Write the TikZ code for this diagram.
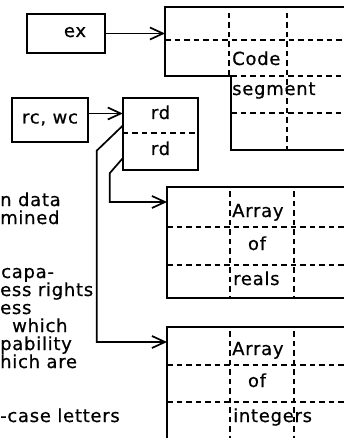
\documentclass[tikz,border=0pt]{standalone}
\usepackage{fontspec}
\setmainfont{DejaVu Sans}[LetterSpace=4, FakeBold=0.6]
\usetikzlibrary{arrows.meta,positioning}

\begin{document}
\begin{tikzpicture}[x=1pt, y=-1pt, font=\fontsize{18}{18}\selectfont,
  box/.style={draw, line width=1.9pt, inner sep=0pt, text height=10pt, text depth=3pt},
  half/.style={inner sep=0pt, minimum width=75pt, text height=10pt, text depth=3pt},
  seg/.style={line width=1.9pt},
  cell/.style={dash pattern=on 5.5pt off 4pt, line width=1.6pt},
  txt/.style={inner sep=0pt, anchor=base west},
  flow/.style={-{Straight Barb[length=13pt, width=12pt]}, line width=1.7pt}]
\clip (0,0) rectangle (344,438);
% capabilities
\node[box, minimum width=78pt, minimum height=39pt] (ex) at (66,33.5) {\hspace*{18pt}ex};
\node[box, minimum width=76pt, minimum height=44pt] (rcwc) at (50,120) {rc, wc};
\node[half, minimum height=35pt] (rdtop) at (160.5,115.5) {rd};
\node[half, minimum height=37pt] (rdbot) at (160.5,151.5) {rd};
\draw[seg] (rdtop.north west) rectangle (rdbot.south east);
\draw[cell] (rdtop.south west) -- (rdtop.south east);
% code segment
\draw[seg] (350,7) -- (165,7) -- (165,76) -- (231,76) -- (231,150) -- (350,150);
\draw[cell] (165,40) -- (350,40);
\draw[cell] (231,76) -- (350,76);
\draw[cell] (231,113) -- (350,113);
\draw[cell] (229,13) -- (229,76);
\draw[cell] (287,13) -- (287,150);
\node[txt] (code) at (232,65) {Code};
\node[txt] (segm) at (232,95) {segment};
\coordinate (codein) at (165,33.5);
% array of reals
\draw[seg] (350,187) -- (167,187) -- (167,298) -- (350,298);
\draw[cell] (167,227) -- (350,227);
\draw[cell] (167,265) -- (350,265);
\draw[cell] (230,191) -- (230,298);
\draw[cell] (294,191) -- (294,298);
\node[txt] (arr1) at (232,217) {Array};
\node[txt, anchor=base] (of1) at (257,250) {of};
\node[txt] (reals) at (233,285) {reals};
\coordinate (realsin) at (167,202);
% array of integers
\draw[seg] (350,327) -- (167,327) -- (167,445);
\draw[cell] (167,365) -- (350,365);
\draw[cell] (167,402) -- (350,402);
\draw[cell] (230,331) -- (230,445);
\draw[cell] (294,331) -- (294,445);
\node[txt] (arr2) at (232,355) {Array};
\node[txt, anchor=base] (of2) at (257,387) {of};
\node[txt] (ints) at (233,422) {integers};
\coordinate (intsin) at (167,342);
% connectors
\draw[flow] (ex.east) -- (codein);
\draw[flow] ([yshift=2pt]rdtop.west -| rcwc.east) -- ([yshift=2pt]rdtop.west);
\draw[flow] (rdtop.195) -- ++(-26,25) |- (intsin);
\draw[flow] (rdbot.190) -- ++(-13,15) |- (realsin);
% text cut at the left
\node[txt] (l1) at (0,206) {n data};
\node[txt] (l2) at (0,224) {mined};
\node[txt] (l3) at (1,278) {capa-};
\node[txt] (l4) at (0,296) {ess rights};
\node[txt] (l5) at (0,314) {ess};
\node[txt] (l6) at (12,332) {which};
\node[txt] (l7) at (0,350) {pability};
\node[txt] (l8) at (0,368) {hich are};
\node[txt] (l9) at (0,422) {-case letters};
\end{tikzpicture}
\end{document}
